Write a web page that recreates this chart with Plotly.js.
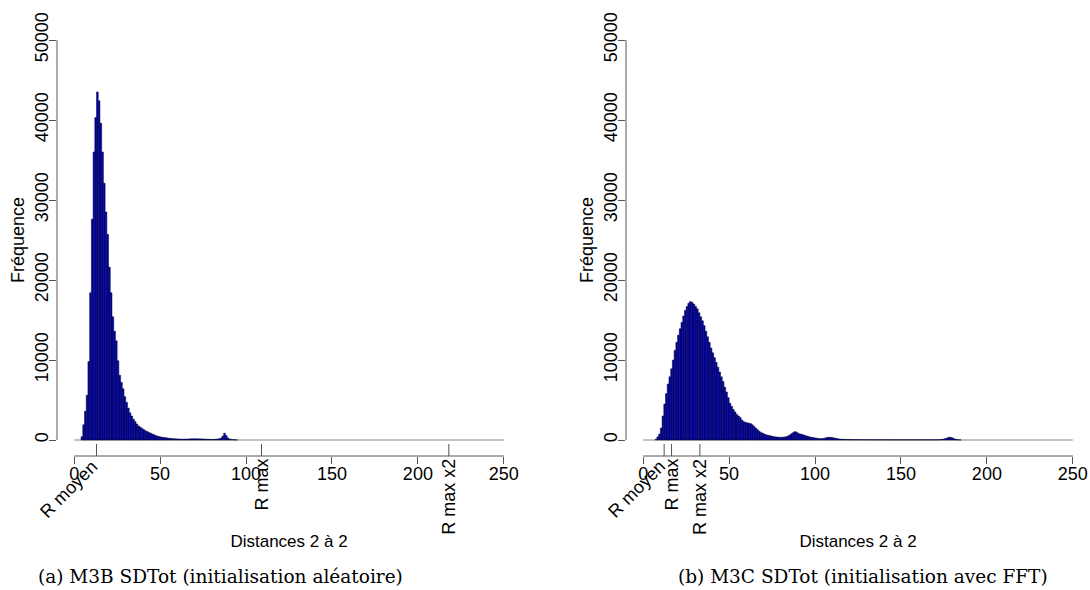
<!DOCTYPE html>
<html>
<head>
<meta charset="utf-8">
<script src="https://cdn.plot.ly/plotly-3.0.1.min.js"></script>
<style>
  html, body { margin: 0; padding: 0; background: #fff; }
  #chart { width: 1090px; height: 590px; }
</style>
</head>
<body>
<div id="chart"></div>
<script>
// ---------- data ----------
// Histogram A : M3B SDTot (initialisation aléatoire), bins of width 1 starting at leftStart
const leftStart = 4;
const leftCounts = [
  400, 1900, 3600, 5600, 9800, 18400, 27600, 36000, 40300, 43500,
  42400, 39600, 36000, 32100, 28500, 25700, 21600, 18400, 15400, 13600,
  12400, 9900, 8100, 7200, 6400, 5400, 4700, 4000, 3400, 3000,
  2600, 2300, 2000, 1750, 1600, 1450, 1300, 1150, 1050, 950,
  850, 750, 650, 550, 480, 420, 380, 340, 300, 270,
  240, 210, 190, 170, 150, 140, 130, 120, 110, 110,
  110, 120, 130, 140, 150, 150, 150, 150, 140, 140,
  130, 120, 100, 90, 80, 80, 80, 90, 100, 120,
  160, 250, 500, 850, 550, 250, 120, 80, 50, 30, 20
];
// Histogram B : M3C SDTot (initialisation avec FFT)
const rightStart = 7;
const rightCounts = [
  100, 400, 750, 1500, 3000, 4500, 5800, 7000, 7900, 8900,
  10000, 11200, 12200, 13100, 13900, 14700, 15500, 16200, 16700, 17100,
  17300, 17200, 17000, 16700, 16400, 15900, 15400, 14900, 14300, 13600,
  12900, 12200, 11500, 10900, 10300, 9700, 9100, 8500, 7900, 7300,
  6600, 6000, 5300, 4600, 4200, 3800, 3500, 3200, 3000, 2800,
  2500, 2300, 2200, 2150, 2100, 2050, 1900, 1700, 1500, 1300,
  1100, 950, 850, 750, 650, 600, 550, 500, 450, 400,
  380, 350, 330, 330, 350, 380, 430, 520, 650, 800,
  950, 1050, 950, 800, 750, 700, 620, 540, 480, 420,
  360, 320, 280, 240, 200, 180, 170, 180, 220, 280,
  330, 340, 320, 280, 230, 190, 150, 120, 100, 90,
  80, 75, 70, 65, 60, 55, 50, 50, 45, 45,
  40, 40, 40, 40, 40, 38, 38, 38, 36, 36,
  36, 35, 35, 35, 34, 34, 34, 33, 33, 33,
  32, 32, 32, 32, 32, 32, 32, 32, 32, 32,
  32, 32, 32, 32, 32, 32, 32, 32, 32, 32,
  32, 32, 32, 35, 40, 50, 70, 100, 150, 220,
  300, 350, 300, 200, 120, 60, 30, 15
];
const binWidth = 1;

const xTicks = [0, 50, 100, 150, 200, 250];
const yTicks = [0, 10000, 20000, 30000, 40000, 50000];

// reference marks under each histogram
const markNames = ["R moyen", "R max", "R max x2"];
const markAngles = [-45, -90, -90];
const leftMarks = [13, 109, 218];
const rightMarks = [12.2, 16.5, 33];

const xTitle = "Distances 2 à 2";
const yTitle = "Fréquence";
const captionA = "(a) M3B SDTot (initialisation aléatoire)";
const captionB = "(b) M3C SDTot (initialisation avec FFT)";

// ---------- build ----------
function centers(start, counts) {
  return counts.map((_, i) => start + i * binWidth + binWidth / 2);
}
const barStyle = { color: "#0000C0", line: { color: "#000022", width: 0.5 } };

const traces = [
  { type: "bar", x: centers(leftStart, leftCounts), y: leftCounts, width: binWidth,
    marker: barStyle, xaxis: "x", yaxis: "y", hoverinfo: "x+y", showlegend: false },
  { type: "bar", x: centers(rightStart, rightCounts), y: rightCounts, width: binWidth,
    marker: barStyle, xaxis: "x2", yaxis: "y2", hoverinfo: "x+y", showlegend: false }
];

const sansFont = "Liberation Sans, Arial, Helvetica, sans-serif";
const tickCol = "#555";
const xRange = [-10, 260];
const yRange = [-2000, 52000];
const domA = [57 / 1090, 521 / 1090];
const domB = [626 / 1090, 1];

function mainX(dom, anchor) {
  return {
    domain: dom, range: xRange, anchor: anchor,
    showgrid: false, zeroline: false, showline: false,
    tickmode: "array", tickvals: xTicks, ticktext: xTicks.map(String),
    ticks: "outside", ticklen: 7, tickwidth: 1, tickcolor: tickCol, tickangle: 0,
    ticklabelstandoff: -6,
    tickfont: { family: sansFont, size: 18, color: "#000" },
    title: { text: xTitle, font: { family: sansFont, size: 17, color: "#000" }, standoff: 52 }
  };
}
function mainY(anchor) {
  return {
    domain: [0, 1], range: yRange, anchor: anchor,
    showgrid: false, zeroline: false, showline: false,
    tickmode: "array", tickvals: yTicks, ticktext: yTicks.map(String),
    ticks: "outside", ticklen: 7, tickwidth: 1, tickcolor: tickCol, tickangle: -90,
    ticklabelstandoff: -6,
    tickfont: { family: sansFont, size: 18, color: "#000" },
    title: { text: yTitle, font: { family: sansFont, size: 18, color: "#000" }, standoff: 2 }
  };
}
function axisShapes(xr, yr, marks) {
  const ln = { color: tickCol, width: 1 };
  const s = [
    { type: "line", xref: xr + " domain", yref: yr, x0: 0, x1: 0, y0: yTicks[0], y1: yTicks[yTicks.length - 1], line: ln },
    { type: "line", xref: xr, yref: yr + " domain", x0: xTicks[0], x1: xTicks[xTicks.length - 1], y0: 0, y1: 0, line: ln },
    { type: "line", xref: xr, yref: yr, x0: xTicks[0], x1: xTicks[xTicks.length - 1], y0: 0, y1: 0, line: { color: "#888", width: 1 }, layer: "below" }
  ];
  marks.forEach(m => s.push({ type: "line", xref: xr, yref: yr + " domain", x0: m, x1: m, y0: 0, y1: 12 / 432, line: ln }));
  return s;
}
function markLabels(xr, yr, marks) {
  return marks.map((m, i) => ({
    text: markNames[i], xref: xr, yref: yr + " domain", x: m, y: 0,
    textangle: markAngles[i],
    xanchor: markAngles[i] === -90 ? "center" : "right", yanchor: "top",
    xshift: markAngles[i] === -90 ? 0 : 8, yshift: markAngles[i] === -90 ? -1 : 2,
    showarrow: false, font: { family: sansFont, size: 18, color: "#000" }
  }));
}

const serif = "DejaVu Serif, Liberation Serif, serif";
const layout = {
  width: 1090, height: 590,
  margin: { l: 0, r: 0, t: 24, b: 134, pad: 0 },
  paper_bgcolor: "#fff", plot_bgcolor: "#fff",
  bargap: 0, showlegend: false,
  xaxis: mainX(domA, "y"),
  xaxis2: mainX(domB, "y2"),
  yaxis: mainY("x"),
  yaxis2: mainY("x2"),
  shapes: axisShapes("x", "y", leftMarks).concat(axisShapes("x2", "y2", rightMarks)),
  annotations: markLabels("x", "y", leftMarks).concat(markLabels("x2", "y2", rightMarks)).concat([
    { text: captionA, xref: "paper", yref: "paper", x: 220 / 1090, y: 0, yshift: -120,
      xanchor: "center", yanchor: "middle", showarrow: false, font: { family: serif, size: 18.5, color: "#000" } },
    { text: captionB, xref: "paper", yref: "paper", x: 863 / 1090, y: 0, yshift: -120,
      xanchor: "center", yanchor: "middle", showarrow: false, font: { family: serif, size: 18.5, color: "#000" } }
  ])
};

Plotly.newPlot("chart", traces, layout, { staticPlot: true, displayModeBar: false });
</script>
</body>
</html>
